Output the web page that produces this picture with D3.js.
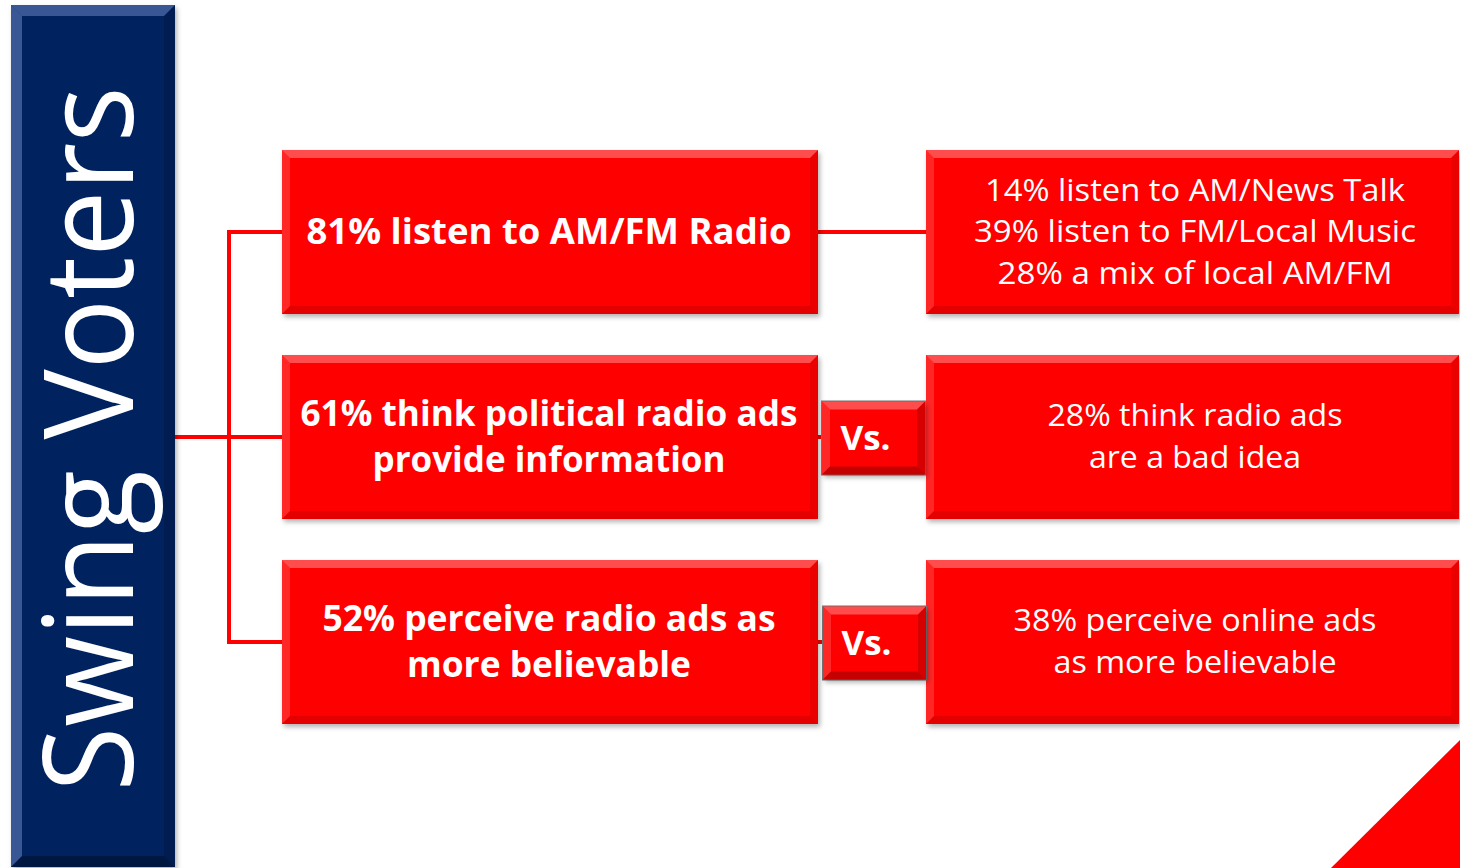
<!DOCTYPE html>
<html>
<head>
<meta charset="utf-8">
<script src="https://d3js.org/d3.v7.min.js"></script>
<style>
  body { margin: 0; background: #ffffff; }
  text { font-family: "Open Sans", "Noto Sans", sans-serif; fill: #ffffff; }
</style>
</head>
<body>
<div id="chart"></div>
<script>
// data
var title = "Swing Voters";
var rowIds = ["radio", "info", "believe"];
var leftTexts = [
  ["81% listen to AM/FM Radio"],
  ["61% think political radio ads", "provide information"],
  ["52% perceive radio ads as", "more believable"]
];
var rightTexts = [
  ["14% listen to AM/News Talk", "39% listen to FM/Local Music", "28% a mix of local AM/FM"],
  ["28% think radio ads", "are a bad idea"],
  ["38% perceive online ads", "as more believable"]
];
var vsLabels = [null, "Vs.", "Vs."];

// measured line widths from the reference (so the stand-in font lines up)
var leftWidths = [[485], [497, 353], [453, 284]];
var rightWidths = [[420, 442, 395], [295, 212], [363, 283]];

var svgWidth = 1460;
var svgHeight = 868;

var svg = d3.select("#chart")
  .append("svg")
  .attr("width", svgWidth)
  .attr("height", svgHeight)
  .style("display", "block");

svg.append("rect")
  .attr("width", svgWidth)
  .attr("height", svgHeight)
  .attr("fill", "#ffffff");

var defs = svg.append("defs");
var shadow = defs.append("filter")
  .attr("id", "shadow")
  .attr("x", "-5%").attr("y", "-5%")
  .attr("width", "115%").attr("height", "120%");
shadow.append("feDropShadow")
  .attr("dx", 2).attr("dy", 3)
  .attr("stdDeviation", 2.5)
  .attr("flood-color", "#000")
  .attr("flood-opacity", 0.3);

var y = d3.scaleBand()
  .domain(rowIds)
  .range([150, 724])
  .paddingInner(0.2)
  .paddingOuter(0);

var leftX = 282, leftW = 536;
var rightX = 926, rightW = 533;
var barX = 11, barW = 164;
var spineX = 229;
var lineColor = "#ff0000";
var red = "#ff0000";

// bevel helper: draws a beveled rect
function bevelBox(g, x0, y0, w, h, fill, light, dark, b, op) {
  g.append("rect")
    .attr("x", x0).attr("y", y0)
    .attr("width", w).attr("height", h)
    .attr("fill", fill)
    .attr("filter", "url(#shadow)");
  var x1 = x0 + w, y1 = y0 + h;
  // top
  g.append("path")
    .attr("d", `M${x0},${y0}L${x1},${y0}L${x1 - b},${y0 + b}L${x0 + b},${y0 + b}Z`)
    .attr("fill", light).attr("opacity", op[0]);
  // left
  g.append("path")
    .attr("d", `M${x0},${y0}L${x0 + b},${y0 + b}L${x0 + b},${y1 - b}L${x0},${y1}Z`)
    .attr("fill", light).attr("opacity", op[1]);
  // right
  g.append("path")
    .attr("d", `M${x1},${y0}L${x1},${y1}L${x1 - b},${y1 - b}L${x1 - b},${y0 + b}Z`)
    .attr("fill", dark).attr("opacity", op[2]);
  // bottom
  g.append("path")
    .attr("d", `M${x0},${y1}L${x0 + b},${y1 - b}L${x1 - b},${y1 - b}L${x1},${y1}Z`)
    .attr("fill", dark).attr("opacity", op[3]);
}

// connectors
var lines = svg.append("g")
  .attr("stroke", lineColor)
  .attr("stroke-width", 4)
  .attr("fill", "none");

var mid = d => y(d) + y.bandwidth() / 2;

lines.append("line")
  .attr("x1", spineX).attr("x2", spineX)
  .attr("y1", mid(rowIds[0]) - 2).attr("y2", mid(rowIds[2]) + 2);
lines.append("line")
  .attr("x1", barX + barW).attr("x2", spineX)
  .attr("y1", mid(rowIds[1])).attr("y2", mid(rowIds[1]));
lines.selectAll(".branch")
  .data(rowIds)
  .enter()
  .append("line")
  .attr("class", "branch")
  .attr("x1", spineX).attr("x2", leftX + 4)
  .attr("y1", d => mid(d)).attr("y2", d => mid(d));
lines.selectAll(".link")
  .data(rowIds)
  .enter()
  .append("line")
  .attr("class", "link")
  .attr("x1", leftX + leftW - 4).attr("x2", rightX + 4)
  .attr("y1", d => mid(d)).attr("y2", d => mid(d));

// title bar
var bar = svg.append("g");
bevelBox(bar, barX, 5, barW, 862, "#03205e", "#7f9ad6", "#000000", 11, [0.45, 0.45, 0.15, 0.3]);
bar.append("text")
  .attr("transform", `translate(133, 439) rotate(-90)`)
  .attr("text-anchor", "middle")
  .attr("font-size", 124)
  .attr("textLength", 705)
  .attr("lengthAdjust", "spacingAndGlyphs")
  .text(title);

// boxes
function drawText(g, lines, widths, cx, cy, size, weight, gap) {
  var n = lines.length;
  lines.forEach((t, i) => {
    g.append("text")
      .attr("x", cx)
      .attr("y", cy + (i - (n - 1) / 2) * gap)
      .attr("dy", "0.36em")
      .attr("text-anchor", "middle")
      .attr("font-size", size)
      .attr("font-weight", weight)
      .attr("textLength", widths[i])
      .attr("lengthAdjust", "spacingAndGlyphs")
      .text(t);
  });
}

var boxOp = [0.3, 0.15, 0.15, 0.2];

rowIds.forEach((id, i) => {
  var g = svg.append("g");
  bevelBox(g, leftX, y(id), leftW, y.bandwidth(), red, "#ffffff", "#7a0000", 8, boxOp);
  drawText(g, leftTexts[i], leftWidths[i], leftX + leftW / 2 - 1, mid(id) - 1, 36, 700, 46);

  var g2 = svg.append("g");
  bevelBox(g2, rightX, y(id), rightW, y.bandwidth(), red, "#ffffff", "#7a0000", 8, boxOp);
  drawText(g2, rightTexts[i], rightWidths[i], 1195, mid(id) - 1, 31, 400, 41.5);

  if (vsLabels[i]) {
    var vx = 822 + (i - 1), vw = 103, vh = 73;
    var vy = mid(id) - vh / 2 + 1;
    var g3 = svg.append("g");
    g3.append("rect")
      .attr("x", vx - 1).attr("y", vy - 1)
      .attr("width", vw + 2).attr("height", vh + 2)
      .attr("fill", "#777");
    bevelBox(g3, vx, vy, vw, vh, red, "#ffffff", "#5a0000", 8, [0.3, 0.15, 0.25, 0.35]);
    g3.append("text")
      .attr("x", vx + vw / 2 - 8)
      .attr("y", vy + vh / 2)
      .attr("dy", "0.36em")
      .attr("text-anchor", "middle")
      .attr("font-size", 34)
      .attr("font-weight", 700)
      .attr("textLength", 50)
      .attr("lengthAdjust", "spacingAndGlyphs")
      .text(vsLabels[i]);
  }
});

// corner triangle
svg.append("path")
  .attr("d", `M${svgWidth},740L${svgWidth},${svgHeight}L1331,${svgHeight}Z`)
  .attr("fill", red);
</script>
</body>
</html>
